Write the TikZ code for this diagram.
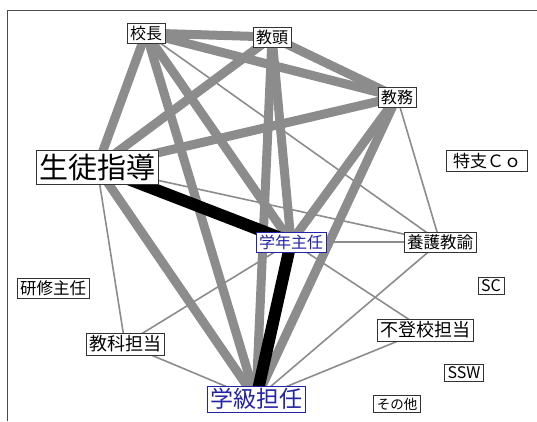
\documentclass[tikz,border=0pt]{standalone}
\usepackage{fontspec}
\setmainfont{Noto Sans CJK JP}
\usetikzlibrary{backgrounds}

\definecolor{linkgray}{RGB}{140,140,140}
\definecolor{leadblue}{RGB}{35,35,165}

\begin{document}
\begin{tikzpicture}[x=1pt,y=-1pt,
  sz/.style={font=\fontsize{#1}{#1}\selectfont},
  person/.style={draw=black!80,line width=0.6pt,fill=white,inner xsep=3pt,inner ysep=2.5pt},
  lead/.style={person,draw=leadblue,text=leadblue},
  weak/.style={draw=linkgray,line width=1.6pt},
  strong/.style={draw=linkgray,line width=9pt},
  tight/.style={draw=black,line width=12pt}]

\useasboundingbox (0,0) rectangle (537,421);
\draw [black!70, line width=0.8pt] (7,421)--(7,10)--(537,10);

\node [person, sz=16] (kocho)   at (146,33)  {校長};
\node [person, sz=16] (kyoto)   at (272,37)  {教頭};
\node [person, sz=16] (kyomu)   at (397,97)  {教務};
\node [person, sz=29, inner ysep=3.5pt] (seito) at (97,167) {生徒指導};
\node [person, sz=17, minimum width=81pt] (tokushi) at (487,161) {特支Ｃｏ};
\node [lead,   sz=16] (gakunen) at (291,242) {学年主任};
\node [person, sz=16.5] (yogo)  at (440,242) {養護教諭};
\node [person, sz=16.5] (kenshu) at (53,288) {研修主任};
\node [person, sz=16] (sc)      at (491,286) {SC};
\node [person, sz=18] (kyoka)   at (125,344) {教科担当};
\node [person, sz=18] (futoko)  at (425,330) {不登校担当};
\node [lead,   sz=23] (gakkyu)  at (256,399) {学級担任};
\node [person, sz=16] (ssw)     at (464,373) {SSW};
\node [person, sz=13.5] (sonota) at (397,404) {その他};

\begin{pgfonlayer}{background}
% thick grey ties
\draw [strong] (kocho.center)--(kyoto.center);
\draw [strong] (kocho.center)--(kyomu.center);
\draw [strong] (kyoto.center)--(kyomu.center);
\draw [strong] (kocho.center)--(seito.center);
\draw [strong] (kyoto.center)--(seito.center);
\draw [strong] (kyomu.center)--(seito.center);
\draw [strong] (kocho.center)--(gakunen.center);
\draw [strong] (kocho.center)--(gakkyu.center);
\draw [strong] (kyoto.center)--(gakunen.center);
\draw [strong] (kyoto.center)--(gakkyu.center);
\draw [strong] (kyomu.center)--(gakunen.center);
\draw [strong] (kyomu.center)--(gakkyu.center);
\draw [strong] (seito.center)--(gakkyu.center);

% thin ties
\draw [weak] (kocho.center)--(yogo.center);
\draw [weak] (kyomu.center)--(yogo.center);
\draw [weak] (seito.center)--(yogo.center);
\draw [weak] (seito.center)--(kyoka.center);
\draw [weak] (gakunen.center)--(yogo.center);
\draw [weak] (gakunen.center)--(futoko.center);
\draw [weak] (gakunen.center)--(kyoka.center);
\draw [weak] (kyoka.center)--(gakkyu.center);
\draw [weak] (yogo.center)--(gakkyu.center);
\draw [weak] (futoko.center)--(gakkyu.center);

% black ties
\draw [tight] (seito.center)--(gakunen.center);
\draw [tight] (gakunen.center)--(gakkyu.center);
\end{pgfonlayer}

\end{tikzpicture}
\end{document}
